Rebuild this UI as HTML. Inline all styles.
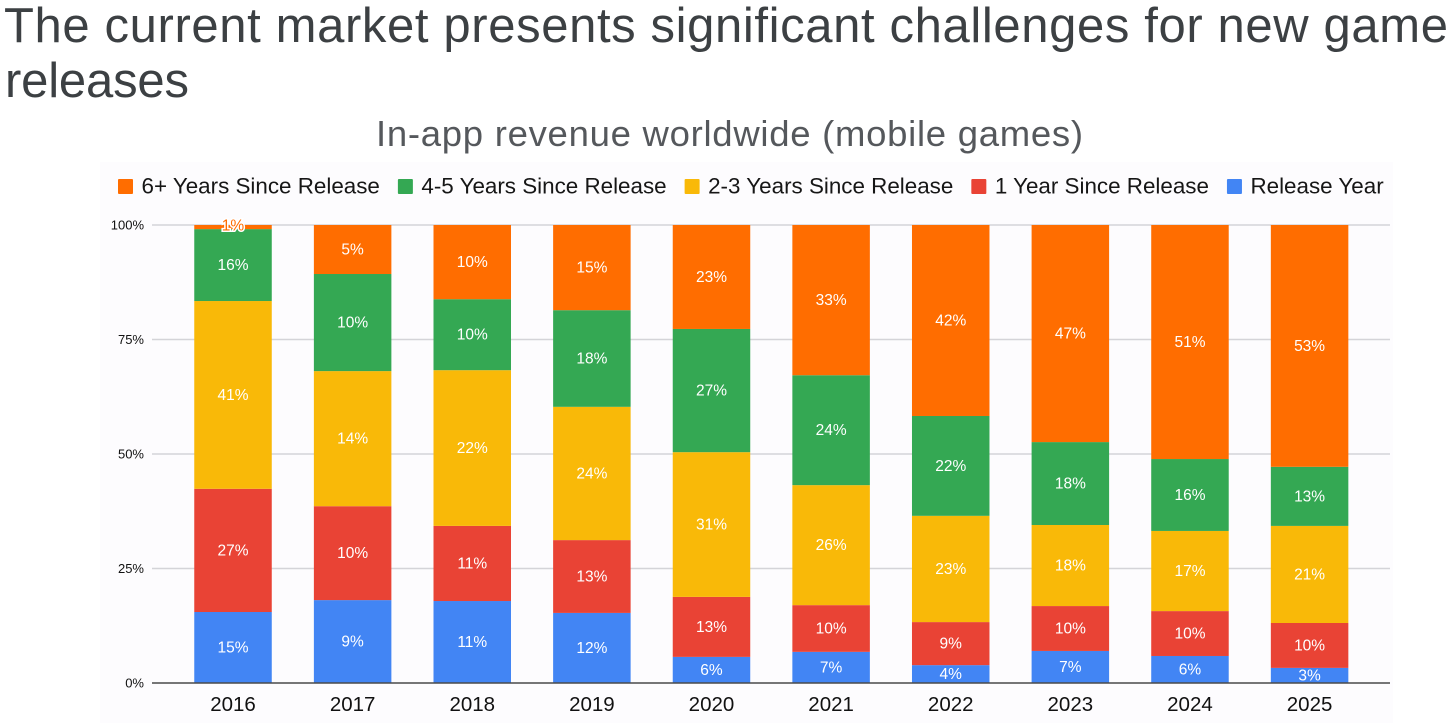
<!DOCTYPE html>
<html lang="en">
<head>
<meta charset="utf-8">
<title>The current market presents significant challenges for new game releases</title>
<style>
  html, body { margin: 0; padding: 0; background: #ffffff; }
  body { width: 1456px; height: 727px; overflow: hidden; }
  svg { display: block; font-family: "Liberation Sans", sans-serif; }
</style>
</head>
<body>
<svg id="chart" width="1456" height="727" viewBox="0 0 1456 727" xmlns="http://www.w3.org/2000/svg">
  <rect x="0" y="0" width="1456" height="727" fill="#ffffff"/>
  <rect x="100" y="162" width="1293" height="561" fill="#fdfcfe"/>
  <text x="4" y="42" font-size="49" fill="#3c4043" textLength="1444" lengthAdjust="spacing">The current market presents significant challenges for new game</text>
  <text x="5" y="97" font-size="49" fill="#3c4043" textLength="184" lengthAdjust="spacing">releases</text>
  <text x="376" y="146" font-size="36.5" fill="#55585c" textLength="707" lengthAdjust="spacing">In-app revenue worldwide (mobile games)</text>
  <g id="grid"></g>
  <g id="bars"></g>
  <g id="values"></g>
  <g id="xaxis"></g>
  <g id="yaxis"></g>
  <g id="legend"></g>
</svg>
<script>
const categories = ["2016","2017","2018","2019","2020","2021","2022","2023","2024","2025"];
const yTickValues = [0, 25, 50, 75, 100];

const seriesNames = ["Release Year","1 Year Since Release","2-3 Years Since Release","4-5 Years Since Release","6+ Years Since Release"];
const seriesColors = ["#4285f4","#e94335","#f9b908","#34a853","#ff6d00"];

const releaseYear = [15.5,18.1,17.9,15.3,5.7,6.8,3.9,7.0,5.9,3.3];
const oneYear     = [26.9,20.5,16.4,15.9,13.1,10.2,9.4,9.8,9.8,9.8];
const twoThree    = [41.0,29.5,34.0,29.1,31.6,26.2,23.2,17.7,17.5,21.2];
const fourFive    = [15.7,21.2,15.5,21.1,26.9,24.0,21.8,18.1,15.7,12.9];
const sixPlus     = [0.9,10.7,16.2,18.6,22.7,32.8,41.7,47.4,51.1,52.8];

const releaseYearLabels = ["15%","9%","11%","12%","6%","7%","4%","7%","6%","3%"];
const oneYearLabels     = ["27%","10%","11%","13%","13%","10%","9%","10%","10%","10%"];
const twoThreeLabels    = ["41%","14%","22%","24%","31%","26%","23%","18%","17%","21%"];
const fourFiveLabels    = ["16%","10%","10%","18%","27%","24%","22%","18%","16%","13%"];
const sixPlusLabels     = ["1%","5%","10%","15%","23%","33%","42%","47%","51%","53%"];

const seriesValues = [releaseYear, oneYear, twoThree, fourFive, sixPlus];
const seriesLabels = [releaseYearLabels, oneYearLabels, twoThreeLabels, fourFiveLabels, sixPlusLabels];

const NS = "http://www.w3.org/2000/svg";
const plotTop = 225, plotBottom = 683, plotLeft = 152, plotRight = 1390;
const bandStart = 173.2, bandStep = 119.62, barWidth = 77.5;

function yScale(v) { return plotBottom - (v / 100) * (plotBottom - plotTop); }
function xCenter(i) { return bandStart + bandStep * (i + 0.5); }
function make(tag, attrs, parent) {
  const el = document.createElementNS(NS, tag);
  for (const k in attrs) el.setAttribute(k, attrs[k]);
  parent.appendChild(el);
  return el;
}

const grid = document.getElementById("grid");
const yaxis = document.getElementById("yaxis");
yTickValues.forEach(function (t) {
  if (t !== 0) {
    const line = make("line", {x1: plotLeft, x2: plotRight, y1: yScale(t), y2: yScale(t), stroke: "#d4d4d8", "stroke-width": 1.6}, grid);
    
    
  }
  const label = make("text", {x: 144, y: yScale(t) + 4.5, "text-anchor": "end", "font-size": 13, fill: "#111111"}, yaxis);
  label.textContent = t + "%";
  
  
});

const bars = document.getElementById("bars");
const values = document.getElementById("values");
categories.forEach(function (cat, i) {
  let cumulative = 0;
  seriesValues.forEach(function (series, s) {
    const start = cumulative;
    const end = cumulative + series[i];
    cumulative = end;
    const yTop = yScale(end), yBase = yScale(start);
    const rect = make("rect", {x: xCenter(i) - barWidth / 2, y: yTop, width: barWidth, height: yBase - yTop, fill: seriesColors[s]}, bars);
    
    
    const attrs = {x: xCenter(i), y: (yTop + yBase) / 2 + 5, "text-anchor": "middle", "font-size": 15.5, fill: "#ffffff"};
    if (series[i] < 2) {
      attrs.fill = seriesColors[s];
      attrs.stroke = "#ffffff";
      attrs["stroke-width"] = 3;
      attrs["paint-order"] = "stroke";
      attrs.y = (yTop + yBase) / 2 + 3.6;
    }
    const label = make("text", attrs, values);
    label.textContent = seriesLabels[s][i];
    
    
  });
});

const xaxis = document.getElementById("xaxis");
const axisLine = make("line", {x1: plotLeft, x2: plotRight, y1: plotBottom, y2: plotBottom, stroke: "#4a4a4a", "stroke-width": 1.5}, xaxis);


categories.forEach(function (cat, i) {
  const t = make("text", {x: xCenter(i), y: 711, "text-anchor": "middle", "font-size": 20.5, fill: "#111111"}, xaxis);
  t.textContent = cat;
  
  
});

const legend = document.getElementById("legend");
let legendX = 118;
for (let s = seriesNames.length - 1; s >= 0; s--) {
  const swatch = make("rect", {x: legendX, y: 179, width: 15, height: 15, rx: 1, fill: seriesColors[s]}, legend);
  
  
  const label = make("text", {x: legendX + 23.5, y: 193.5, "font-size": 22.4, fill: "#161616"}, legend);
  label.textContent = seriesNames[s];
  
  
  legendX += 23.5 + label.getComputedTextLength() + 18;
}
</script>
</body>
</html>
